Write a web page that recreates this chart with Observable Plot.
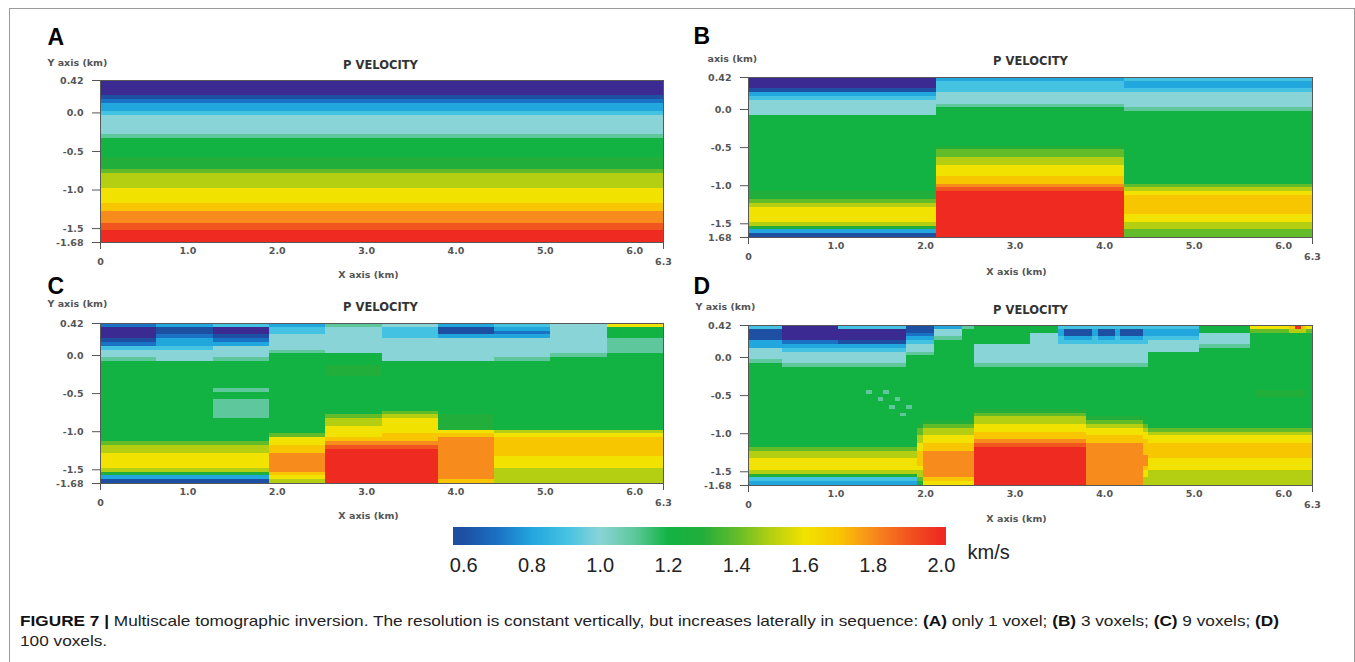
<!DOCTYPE html>
<html>
<head>
<meta charset="utf-8">
<script src="https://cdn.jsdelivr.net/npm/d3@7"></script>
<script src="https://cdn.jsdelivr.net/npm/@observablehq/plot@0.6"></script>
<style>
  html, body { margin: 0; padding: 0; background: #fff; }
  body { width: 1355px; height: 662px; overflow: hidden; position: relative; font-family: "Liberation Sans", Arial, sans-serif; }
  #frame { position: absolute; left: 9px; top: 8px; width: 1346px; height: 720px; border: 1px solid #9b9b9b; box-sizing: border-box; }
  .panel { position: absolute; }
  .panel svg { overflow: visible; display: block; }
  #caption { position: absolute; left: 20px; top: 611px; font-size: 15px; line-height: 20px; color: #222; white-space: nowrap; transform-origin: 0 0; }
  #caption b { color: #111; }
</style>
</head>
<body>
<div id="frame"></div>
<div id="caption"><span id="line1"><b>FIGURE 7 |</b> Multiscale tomographic inversion. The resolution is constant vertically, but increases laterally in sequence: <b>(A)</b> only 1 voxel; <b>(B)</b> 3 voxels; <b>(C)</b> 9 voxels; <b>(D)</b></span><br>100 voxels.</div>
<script>
// ---------------- DATA ----------------
// Model grid: x from 0 to 6.3 km, depth from 0.42 to -1.68 km in 0.05 km layers (42 layers)
const X_MAX = 6.3;
const Y_TOP = 0.42;
const Y_BOTTOM = -1.68;
const LAYER = 0.05;
const N_LAYERS = 42;

// velocity code key: one character per layer -> P velocity (km/s)
const VEL_CODES  = "0123456789abcdef";
const VEL_VALUES = [0.5, 0.6, 0.7, 0.8, 0.9, 1.0, 1.1, 1.2, 1.3, 1.4, 1.5, 1.6, 1.7, 1.8, 1.9, 2.0];

// colour scale stops (km/s -> colour)
const VEL_STOPS  = [0.5, 0.6, 0.7, 0.8, 0.9, 1.0, 1.1, 1.2, 1.3, 1.4, 1.5, 1.6, 1.7, 1.8, 1.9, 2.0];
const VEL_COLORS = ["#3b2a92", "#1d4fa3", "#1a72c4", "#22a6de", "#44c2e2", "#88d4d6", "#5ec89c", "#12b343",
                    "#22ae3a", "#62bc2a", "#b4cf12", "#f2e200", "#f8c600", "#f78b1c", "#f2561f", "#ef2a20"];

// Panel A: 1 voxel laterally (one vertical profile, top -> bottom)
const A_COLUMNS = [
  "0000 12 334 55555 6 77777888 9aaaabb bbcc ddde efff"
];

// Panel B: 3 voxels laterally
const B_COLUMNS = [
  "000 1 3 4 5555 77777777777777777777 88 9a bbbb a8 31",
  "3 444 555 6 7777777777 8 99 aa bbb cc d e ffffffffffff",
  "4 334 5555 6 7777777777777777777 9 a b ccccc bb aa 99"
];

// Panel C: voxels laterally as drawn
const C_COLUMNS = [
  "2 000 1 2 4 55 6   777777777777777777777   9 aa bbbb a 8 3 1",
  "3 11 2 33 4 555    777777777777777777777   9 aa bbbb a 8 3 1",
  "4 00 1 2 3 5 55 6  7777777 6 77 66666 777777   9 aa bbbb a 8 3 1",
  "3 44 5555 6 77     7777777777777777777     9 bb cc ddddd c b a",
  "6 5555555          777 888 7777777777      9 aa bbb c d e fffffffff",
  "5 444 555555       7777777777777           9 a bbbb cc d e fffffffff",
  "3 11 3 555555      77777777777777          8888 b c ddddddddddd c",
  "4 3 2 3 55555 6    777777777777777777      a b ccccc bbb aaaa",
  "55555555 6         7777777777777777777     a b ccccc bbb aaaa",
  "b 777 6666         77777777777777777777    a b ccccc bbb aaaa"
];

// Panel D: 100 voxels laterally. Upper 14 layers and lower 28 layers per column type.
const D_TOP_PROFILES = {
  a: "4 111 33 555 6 7777",
  b: "0000 2 3 4555 6 777",
  c: "4 000 1 3 4 555 6 777",
  d: "11 2 3 4 55 6 777777",
  e: "3 55 6 7777777777",
  f: "6 7777777777777",
  g: "77777 55555 6 777",
  h: "77 55555555 6 777",
  i: "4 11 3 4 55555 6 777",
  j: "4 33 4 4 55555 6 777",
  k: "4 33 4 555 7777777",
  l: "77 555 6 77777777",
  m: "b 9 777777777777",
  n: "f a 777777777777",
  o: "c a 777777777777"
};
const D_BOTTOM_PROFILES = {
  L: "777777777777777777 9 aa bbb a 8 4 3",
  W: "777 6 7 7777777777777 9 aa bbb a 8 4 3",
  X: "77777 6 7 77777777777 9 aa bbb a 8 4 3",
  Y: "7777777 6 7 777777777 9 aa bbb a 8 4 3",
  Z: "777777777 6 7 7777777 9 aa bbb a 8 4 3",
  T: "777777777777 8 99 aa bb cccc b aa 9 8",
  O: "77777777777 8 9 aa bb cc ddddddd c b",
  R: "77777777 8 9 aa bb cc d e ffffffffff",
  Q: "7777777777 8 9 a bb cc ddddddddddd",
  U: "777777777777 9 a bb cccc dddc bbaa",
  S: "7777777777777 9 a bb cccc bbb aaaa",
  P: "777 88 77777777 9 a bb cccc bbb aaaa"
};
const D_TOP_COLS    = "aaaaaa bbbbbbbbbb cccccccccccc ddddd eeeee ff gggggggggg hhhhh jiiiiijiiijiiiij kkkkkkkkk lllllllll mmmmmmmonom";
const D_BOTTOM_COLS = "LLLLLLLLLLLLLLLLLLLL LWLXWYXZYL T OOOOOOOOO RRRRRRRRRRRRRRRRRRRR QQQQQQQQQQ U SSSSSSSSSSSSSSSSSSS PPPPPPPPP S";

// axes
const Y_TICKS = [0.42, 0, -0.5, -1, -1.5, -1.68];
const Y_TICK_LABELS   = ["0.42", "0.0", "-0.5", "-1.0", "-1.5", "-1.68"];
const Y_TICK_LABELS_B = ["0.42", "0.0", "-0.5", "-1.0", "-1.5", "1.68"];
const X_TICKS = [1, 2, 3, 4, 5, 6];
const X_TICK_LABELS = ["1.0", "2.0", "3.0", "4.0", "5.0", "6.0"];
const X_END_TICKS = [0, 6.3];
const X_END_LABELS = ["0", "6.3"];
const CBAR_TICKS = [0.6, 0.8, 1.0, 1.2, 1.4, 1.6, 1.8, 2.0];
const CBAR_LABELS = ["0.6", "0.8", "1.0", "1.2", "1.4", "1.6", "1.8", "2.0"];
const CBAR_DOMAIN = [0.57, 2.015];

// ---------------- HELPERS ----------------
function decode(str, n) {
  const s = str.replace(/\s+/g, "");
  if (s.length !== n) console.warn("profile length", s.length, str);
  const out = [];
  for (let i = 0; i < n; i++) out.push(VEL_VALUES[VEL_CODES.indexOf(s[Math.min(i, s.length - 1)])]);
  return out;
}
function cellsFrom(columns) {
  const n = columns.length, cells = [];
  columns.forEach((col, c) => {
    decode(col, N_LAYERS).forEach((v, r) => {
      cells.push({x1: X_MAX * c / n, x2: X_MAX * (c + 1) / n, y1: Y_TOP - r * LAYER, y2: Y_TOP - (r + 1) * LAYER, v});
    });
  });
  return cells;
}
const dTop = D_TOP_COLS.replace(/\s+/g, "");
const dBot = D_BOTTOM_COLS.replace(/\s+/g, "");
const D_COLUMNS = Array.from(dTop, (t, c) => D_TOP_PROFILES[t] + " " + D_BOTTOM_PROFILES[dBot[c]]);

// ---------------- LAYOUT ----------------
const PANELS = [
  {letter: "A", columns: A_COLUMNS, yLabels: Y_TICK_LABELS, yTitle: "Y axis (km)",
   frame: {left: 100, top: 80, w: 563, h: 162}, letterPos: [-53, -36], yTitlePos: [-53, -15], titlePos: [-1.5, -12], xTitlePos: [-13.5, 35]},
  {letter: "B", columns: B_COLUMNS, yLabels: Y_TICK_LABELS_B, yTitle: "axis (km)",
   frame: {left: 748, top: 76.7, w: 564, h: 160}, letterPos: [-55, -33.7], yTitlePos: [-41, -15.7], titlePos: [0, -12.7], xTitlePos: [-14, 37]},
  {letter: "C", columns: C_COLUMNS, yLabels: Y_TICK_LABELS, yTitle: "Y axis (km)",
   frame: {left: 100, top: 322.7, w: 563, h: 160}, letterPos: [-53, -29.7], yTitlePos: [-53, -16.7], titlePos: [-1.5, -12.7], xTitlePos: [-13.5, 35]},
  {letter: "D", columns: D_COLUMNS, yLabels: Y_TICK_LABELS, yTitle: "Y axis (km)",
   frame: {left: 748, top: 325, w: 564, h: 160}, letterPos: [-55, -32], yTitlePos: [-53, -16], titlePos: [0, -12], xTitlePos: [-14, 36]}
];

const colorScale = {type: "linear", domain: VEL_STOPS, range: VEL_COLORS, clamp: true};

function place(node, left, top) {
  const holder = document.createElement("div");
  holder.className = "panel";
  holder.style.left = left + "px";
  holder.style.top = top + "px";
  holder.appendChild(node);
  document.body.appendChild(holder);
}

function drawPanel(p) {
  const mL = 75, mT = 60, mR = 25, mB = 45;
  const f = p.frame;
  const yMap = new Map(Y_TICKS.map((t, i) => [t, p.yLabels[i]]));
  const xMap = new Map(X_TICKS.map((t, i) => [t, X_TICK_LABELS[i]]));
  const eMap = new Map(X_END_TICKS.map((t, i) => [t, X_END_LABELS[i]]));
  const chart = Plot.plot({
    width: f.w + mL + mR,
    height: f.h + mT + mB,
    marginLeft: mL, marginRight: mR, marginTop: mT, marginBottom: mB,
    x: {domain: [0, X_MAX], axis: null, label: null},
    y: {domain: [Y_BOTTOM, Y_TOP], axis: null, label: null},
    color: colorScale,
    style: {fontFamily: "DejaVu Sans", fontSize: "9.5px", fontWeight: "bold", color: "#555", background: "transparent", overflow: "visible"},
    marks: [
      Plot.rect(cellsFrom(p.columns), {x1: "x1", x2: "x2", y1: "y1", y2: "y2", fill: "v", shapeRendering: "crispEdges"}),
      Plot.frame({stroke: "#585858", strokeWidth: 1}),
      Plot.axisY(Y_TICKS, {anchor: "left", tickSize: 8, tickPadding: 9, tickFormat: d => yMap.get(d), label: null, stroke: "#555"}),
      Plot.axisX(X_TICKS, {anchor: "bottom", tickSize: 0, tickPadding: 5, dx: -2, tickFormat: d => xMap.get(d), label: null}),
      Plot.axisX(X_END_TICKS, {anchor: "bottom", tickSize: 7, tickPadding: 9, tickFormat: d => eMap.get(d), label: null, stroke: "#555"}),
      Plot.text([p.letter], {text: d => d, frameAnchor: "top-left", dx: p.letterPos[0], dy: p.letterPos[1], textAnchor: "start", lineAnchor: "bottom",
        fontSize: 23, fontWeight: "bold", fontFamily: "Liberation Sans, Arial, sans-serif", fill: "#000"}),
      Plot.text([p.yTitle], {text: d => d, frameAnchor: "top-left", dx: p.yTitlePos[0], dy: p.yTitlePos[1], textAnchor: "start", lineAnchor: "bottom",
        fontSize: 9.5, fill: "#555"}),
      Plot.text(["P VELOCITY"], {text: d => d, frameAnchor: "top", dx: p.titlePos[0], dy: p.titlePos[1], lineAnchor: "bottom",
        fontSize: 11.5, fill: "#333"}),
      Plot.text(["X axis (km)"], {text: d => d, frameAnchor: "bottom", dx: p.xTitlePos[0], dy: p.xTitlePos[1], lineAnchor: "bottom",
        fontSize: 9.5, fill: "#555"})
    ]
  });
  place(chart, f.left - mL, f.top - mT);
}

PANELS.forEach(drawPanel);

// colour bar
(function () {
  const bar = {left: 453, top: 527, w: 493, h: 18};
  const mL = 30, mR = 90, mT = 10, mB = 40;
  const step = 0.0025;
  const samples = d3.range(CBAR_DOMAIN[0], CBAR_DOMAIN[1], step);
  const lab = new Map(CBAR_TICKS.map((t, i) => [t, CBAR_LABELS[i]]));
  const chart = Plot.plot({
    width: bar.w + mL + mR, height: bar.h + mT + mB,
    marginLeft: mL, marginRight: mR, marginTop: mT, marginBottom: mB,
    x: {domain: CBAR_DOMAIN, axis: null, label: null},
    y: {domain: [0, 1], axis: null, label: null},
    color: colorScale,
    style: {fontFamily: "Liberation Sans, Arial, sans-serif", fontSize: "20px", color: "#222", background: "transparent", overflow: "visible"},
    marks: [
      Plot.rect(samples, {x1: d => d, x2: d => Math.min(d + step * 1.5, CBAR_DOMAIN[1]), y1: 0, y2: 1, fill: d => Math.max(d, 0.6), shapeRendering: "crispEdges"}),
      Plot.axisX(CBAR_TICKS, {anchor: "bottom", tickSize: 0, tickPadding: 12, tickFormat: d => lab.get(d), label: null}),
      Plot.text(["km/s"], {text: d => d, frameAnchor: "right", dx: 21, dy: 16, textAnchor: "start", lineAnchor: "middle", fontSize: 20, fill: "#222"})
    ]
  });
  place(chart, bar.left - mL, bar.top - mT);
})();

// fit caption line width to the figure
(function () {
  const cap = document.getElementById("caption");
  const w = document.getElementById("line1").getBoundingClientRect().width;
  const target = 1259;
  cap.style.transform = "scaleX(" + (target / w) + ")";
})();
</script>
</body>
</html>
